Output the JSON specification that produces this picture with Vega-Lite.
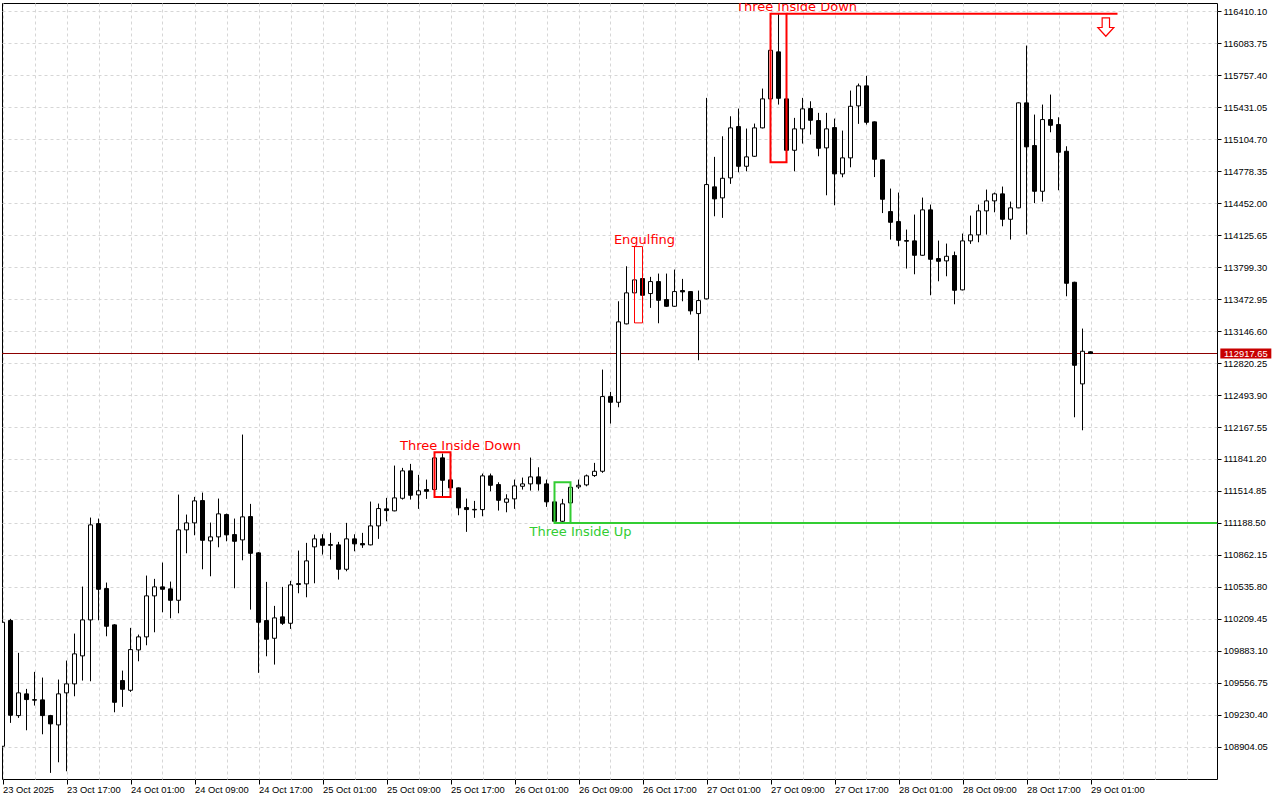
{
  "$schema": "https://vega.github.io/schema/vega-lite/v6.json",
  "width": 1215,
  "height": 776,
  "autosize": {"type": "none"},
  "padding": {"left": 2, "top": 3, "right": 63, "bottom": 21},
  "background": "white",
  "config": {
    "view": {"stroke": "black", "strokeWidth": 1},
    "scale": {"continuousPadding": 0},
    "axis": {"labelOverlap": false, "labelBound": false, "labelFlush": false, "domain": false, "title": null,
      "grid": true, "gridColor": "#d6d6d6", "gridDash": [3, 3], "gridWidth": 1,
      "tickColor": "black", "tickWidth": 1, "labelFont": "Liberation Sans", "labelFontSize": 9.4, "labelColor": "black"},
    "axisY": {"tickSize": 4, "labelPadding": 2},
    "axisX": {"tickSize": 5, "labelPadding": 1, "labelAlign": "left", "labelBaseline": "top"}
  },
  "datasets": {
    "candles": [
      {"t":"2025-10-23T09:00:00Z","open":108909.4,"high":110202.4,"low":108896.2,"close":110174.8},
      {"t":"2025-10-23T10:00:00Z","open":110192.2,"high":110209.5,"low":109148.2,"close":109225.8},
      {"t":"2025-10-23T11:00:00Z","open":109222.7,"high":109862.6,"low":109199.3,"close":109454.4},
      {"t":"2025-10-23T12:00:00Z","open":109444.2,"high":109495.2,"low":109072.7,"close":109386.0},
      {"t":"2025-10-23T13:00:00Z","open":109385.0,"high":109668.7,"low":109324.8,"close":109380.0},
      {"t":"2025-10-23T14:00:00Z","open":109382.9,"high":109610.5,"low":109031.9,"close":109222.7},
      {"t":"2025-10-23T15:00:00Z","open":109222.7,"high":109230.0,"low":108638.0,"close":109138.0},
      {"t":"2025-10-23T16:00:00Z","open":109127.8,"high":109590.1,"low":108746.1,"close":109444.2},
      {"t":"2025-10-23T17:00:00Z","open":109454.4,"high":109784.0,"low":108654.3,"close":109546.2},
      {"t":"2025-10-23T18:00:00Z","open":109546.2,"high":110059.5,"low":109419.7,"close":109852.4},
      {"t":"2025-10-23T19:00:00Z","open":109832.0,"high":110539.2,"low":109579.9,"close":110199.3},
      {"t":"2025-10-23T20:00:00Z","open":110199.3,"high":111243.3,"low":109572.8,"close":111168.8},
      {"t":"2025-10-23T21:00:00Z","open":111182.1,"high":111233.1,"low":110195.3,"close":110511.6},
      {"t":"2025-10-23T22:00:00Z","open":110518.8,"high":110580.0,"low":110032.0,"close":110134.0},
      {"t":"2025-10-23T23:00:00Z","open":110148.3,"high":110155.0,"low":109256.4,"close":109358.4},
      {"t":"2025-10-24T00:00:00Z","open":109579.9,"high":109681.9,"low":109311.6,"close":109491.1},
      {"t":"2025-10-24T01:00:00Z","open":109480.9,"high":110117.7,"low":109464.6,"close":109896.2},
      {"t":"2025-10-24T02:00:00Z","open":109893.2,"high":110049.3,"low":109776.9,"close":110025.9},
      {"t":"2025-10-24T03:00:00Z","open":110025.9,"high":110651.4,"low":109940.1,"close":110444.3},
      {"t":"2025-10-24T04:00:00Z","open":110444.3,"high":110617.8,"low":110072.8,"close":110536.1},
      {"t":"2025-10-24T05:00:00Z","open":110536.1,"high":110784.1,"low":110276.9,"close":110511.6},
      {"t":"2025-10-24T06:00:00Z","open":110515.7,"high":110590.2,"low":110215.7,"close":110399.4},
      {"t":"2025-10-24T07:00:00Z","open":110399.4,"high":111478.0,"low":110266.7,"close":111117.8},
      {"t":"2025-10-24T08:00:00Z","open":111117.8,"high":111273.9,"low":110879.0,"close":111189.2},
      {"t":"2025-10-24T09:00:00Z","open":111189.2,"high":111454.5,"low":111062.7,"close":111413.7},
      {"t":"2025-10-24T10:00:00Z","open":111416.8,"high":111498.4,"low":110715.7,"close":111011.6},
      {"t":"2025-10-24T11:00:00Z","open":111005.6,"high":111192.3,"low":110644.3,"close":111046.4},
      {"t":"2025-10-24T12:00:00Z","open":111046.4,"high":111437.2,"low":110940.2,"close":111281.1},
      {"t":"2025-10-24T13:00:00Z","open":111273.9,"high":111284.1,"low":111001.4,"close":111066.8},
      {"t":"2025-10-24T14:00:00Z","open":111069.8,"high":111233.1,"low":110521.8,"close":111001.4},
      {"t":"2025-10-24T15:00:00Z","open":111015.7,"high":112090.3,"low":110807.6,"close":111250.5},
      {"t":"2025-10-24T16:00:00Z","open":111253.5,"high":111383.1,"low":110304.4,"close":110879.0},
      {"t":"2025-10-24T17:00:00Z","open":110883.1,"high":110890.0,"low":109658.5,"close":110174.8},
      {"t":"2025-10-24T18:00:00Z","open":110192.2,"high":110587.1,"low":109827.9,"close":110001.4},
      {"t":"2025-10-24T19:00:00Z","open":110011.6,"high":110342.2,"low":109743.2,"close":110219.8},
      {"t":"2025-10-24T20:00:00Z","open":110230.0,"high":110536.1,"low":110148.3,"close":110164.6},
      {"t":"2025-10-24T21:00:00Z","open":110164.6,"high":110597.4,"low":110107.5,"close":110556.5},
      {"t":"2025-10-24T22:00:00Z","open":110560.0,"high":110906.6,"low":110470.8,"close":110570.0},
      {"t":"2025-10-24T23:00:00Z","open":110566.8,"high":110985.1,"low":110430.0,"close":110801.5},
      {"t":"2025-10-25T00:00:00Z","open":110944.3,"high":111069.8,"low":110572.8,"close":111026.0},
      {"t":"2025-10-25T01:00:00Z","open":111026.0,"high":111072.9,"low":110865.7,"close":110960.6},
      {"t":"2025-10-25T02:00:00Z","open":110960.0,"high":111087.2,"low":110814.7,"close":110968.0},
      {"t":"2025-10-25T03:00:00Z","open":110964.7,"high":110995.3,"low":110610.6,"close":110715.7},
      {"t":"2025-10-25T04:00:00Z","open":110715.7,"high":111189.2,"low":110695.3,"close":111026.0},
      {"t":"2025-10-25T05:00:00Z","open":111026.0,"high":111072.9,"low":110899.4,"close":110974.9},
      {"t":"2025-10-25T06:00:00Z","open":110978.0,"high":111087.2,"low":110934.1,"close":110964.7},
      {"t":"2025-10-25T07:00:00Z","open":110964.7,"high":111406.6,"low":110960.0,"close":111158.6},
      {"t":"2025-10-25T08:00:00Z","open":111158.6,"high":111386.2,"low":111026.0,"close":111335.2},
      {"t":"2025-10-25T09:00:00Z","open":111332.1,"high":111444.3,"low":111205.6,"close":111314.7},
      {"t":"2025-10-25T10:00:00Z","open":111311.7,"high":111774.0,"low":111307.6,"close":111444.3},
      {"t":"2025-10-25T11:00:00Z","open":111440.3,"high":111750.5,"low":111427.0,"close":111719.9},
      {"t":"2025-10-25T12:00:00Z","open":111719.9,"high":111791.3,"low":111427.0,"close":111470.9},
      {"t":"2025-10-25T13:00:00Z","open":111475.0,"high":111679.1,"low":111332.1,"close":111515.8},
      {"t":"2025-10-25T14:00:00Z","open":111529.0,"high":111631.1,"low":111434.1,"close":111511.6},
      {"t":"2025-10-25T15:00:00Z","open":111529.0,"high":111860.0,"low":111460.7,"close":111852.6},
      {"t":"2025-10-25T16:00:00Z","open":111852.6,"high":111896.4,"low":111460.7,"close":111624.0},
      {"t":"2025-10-25T17:00:00Z","open":111628.1,"high":111726.0,"low":111460.7,"close":111546.4},
      {"t":"2025-10-25T18:00:00Z","open":111546.4,"high":111550.0,"low":111266.8,"close":111342.3},
      {"t":"2025-10-25T19:00:00Z","open":111345.4,"high":111437.2,"low":111097.4,"close":111324.9},
      {"t":"2025-10-25T20:00:00Z","open":111322.0,"high":111413.7,"low":111240.3,"close":111327.0},
      {"t":"2025-10-25T21:00:00Z","open":111324.9,"high":111692.3,"low":111256.6,"close":111668.9},
      {"t":"2025-10-25T22:00:00Z","open":111668.9,"high":111692.3,"low":111511.6,"close":111572.9},
      {"t":"2025-10-25T23:00:00Z","open":111580.1,"high":111603.6,"low":111314.7,"close":111419.9},
      {"t":"2025-10-26T00:00:00Z","open":111399.4,"high":111481.1,"low":111297.4,"close":111434.1},
      {"t":"2025-10-26T01:00:00Z","open":111434.1,"high":111631.1,"low":111332.1,"close":111566.8},
      {"t":"2025-10-26T02:00:00Z","open":111562.7,"high":111651.5,"low":111529.0,"close":111587.2},
      {"t":"2025-10-26T03:00:00Z","open":111587.2,"high":111855.6,"low":111518.8,"close":111658.7},
      {"t":"2025-10-26T04:00:00Z","open":111658.7,"high":111756.6,"low":111518.8,"close":111587.2},
      {"t":"2025-10-26T05:00:00Z","open":111587.2,"high":111631.1,"low":111352.5,"close":111403.6},
      {"t":"2025-10-26T06:00:00Z","open":111403.6,"high":111450.4,"low":111188.5,"close":111205.6},
      {"t":"2025-10-26T07:00:00Z","open":111205.6,"high":111434.1,"low":111195.0,"close":111383.1},
      {"t":"2025-10-26T08:00:00Z","open":111393.3,"high":111600.0,"low":111284.1,"close":111552.5},
      {"t":"2025-10-26T09:00:00Z","open":111556.6,"high":111631.1,"low":111536.1,"close":111572.9},
      {"t":"2025-10-26T10:00:00Z","open":111577.0,"high":111682.1,"low":111562.7,"close":111668.9},
      {"t":"2025-10-26T11:00:00Z","open":111671.9,"high":111801.5,"low":111658.7,"close":111715.8},
      {"t":"2025-10-26T12:00:00Z","open":111715.8,"high":112753.6,"low":111700.0,"close":112478.1},
      {"t":"2025-10-26T13:00:00Z","open":112478.1,"high":112526.1,"low":112202.6,"close":112419.9},
      {"t":"2025-10-26T14:00:00Z","open":112419.9,"high":113450.7,"low":112368.9,"close":113240.4},
      {"t":"2025-10-26T15:00:00Z","open":113220.0,"high":113807.8,"low":113215.0,"close":113536.4},
      {"t":"2025-10-26T16:00:00Z","open":113536.4,"high":114008.9,"low":113230.2,"close":113669.0},
      {"t":"2025-10-26T17:00:00Z","open":113682.3,"high":113852.7,"low":113460.9,"close":113511.9},
      {"t":"2025-10-26T18:00:00Z","open":113529.2,"high":113699.7,"low":113383.3,"close":113651.7},
      {"t":"2025-10-26T19:00:00Z","open":113651.7,"high":113733.3,"low":113226.1,"close":113460.9},
      {"t":"2025-10-26T20:00:00Z","open":113468.0,"high":113733.3,"low":113393.5,"close":113399.6},
      {"t":"2025-10-26T21:00:00Z","open":113399.6,"high":113774.1,"low":113395.0,"close":113549.6},
      {"t":"2025-10-26T22:00:00Z","open":113559.8,"high":113679.2,"low":113450.7,"close":113546.5},
      {"t":"2025-10-26T23:00:00Z","open":113549.6,"high":113555.0,"low":113314.9,"close":113352.7},
      {"t":"2025-10-27T00:00:00Z","open":113325.1,"high":113559.8,"low":112848.6,"close":113457.8},
      {"t":"2025-10-27T01:00:00Z","open":113475.1,"high":115526.3,"low":113470.0,"close":114641.6},
      {"t":"2025-10-27T02:00:00Z","open":114618.1,"high":114924.3,"low":114318.1,"close":114495.6},
      {"t":"2025-10-27T03:00:00Z","open":114505.8,"high":115134.5,"low":114301.7,"close":114705.9},
      {"t":"2025-10-27T04:00:00Z","open":114709.9,"high":115338.6,"low":114648.7,"close":115220.2},
      {"t":"2025-10-27T05:00:00Z","open":115233.5,"high":115417.2,"low":114767.1,"close":114828.3},
      {"t":"2025-10-27T06:00:00Z","open":114828.3,"high":115213.1,"low":114777.3,"close":114924.3},
      {"t":"2025-10-27T07:00:00Z","open":114930.4,"high":115264.1,"low":114924.3,"close":115220.2},
      {"t":"2025-10-27T08:00:00Z","open":115220.2,"high":115621.3,"low":115215.0,"close":115516.1},
      {"t":"2025-10-27T09:00:00Z","open":115516.1,"high":116104.0,"low":115458.0,"close":116012.1},
      {"t":"2025-10-27T10:00:00Z","open":115995.8,"high":116383.6,"low":115458.0,"close":115522.3},
      {"t":"2025-10-27T11:00:00Z","open":115516.1,"high":115570.2,"low":114869.1,"close":114991.6},
      {"t":"2025-10-27T12:00:00Z","open":114991.6,"high":115322.2,"low":114777.3,"close":115210.0},
      {"t":"2025-10-27T13:00:00Z","open":115210.0,"high":115526.3,"low":115060.0,"close":115414.1},
      {"t":"2025-10-27T14:00:00Z","open":115417.2,"high":115491.7,"low":115151.8,"close":115297.8},
      {"t":"2025-10-27T15:00:00Z","open":115294.7,"high":115373.3,"low":114930.4,"close":115012.0},
      {"t":"2025-10-27T16:00:00Z","open":115016.1,"high":115373.3,"low":114532.4,"close":115210.0},
      {"t":"2025-10-27T17:00:00Z","open":115223.3,"high":115315.1,"low":114430.3,"close":114750.8},
      {"t":"2025-10-27T18:00:00Z","open":114750.8,"high":115192.6,"low":114716.1,"close":114914.1},
      {"t":"2025-10-27T19:00:00Z","open":114914.1,"high":115600.8,"low":114818.1,"close":115440.6},
      {"t":"2025-10-27T20:00:00Z","open":115444.7,"high":115672.3,"low":115261.0,"close":115648.8},
      {"t":"2025-10-27T21:00:00Z","open":115648.8,"high":115750.9,"low":115253.9,"close":115277.3},
      {"t":"2025-10-27T22:00:00Z","open":115281.4,"high":115285.0,"low":114718.1,"close":114899.8},
      {"t":"2025-10-27T23:00:00Z","open":114893.6,"high":114897.0,"low":114350.7,"close":114491.6},
      {"t":"2025-10-28T00:00:00Z","open":114366.0,"high":114600.8,"low":114080.3,"close":114256.8},
      {"t":"2025-10-28T01:00:00Z","open":114264.0,"high":114559.9,"low":114011.9,"close":114073.2},
      {"t":"2025-10-28T02:00:00Z","open":114070.0,"high":114182.3,"low":113784.4,"close":114064.0},
      {"t":"2025-10-28T03:00:00Z","open":114067.0,"high":114335.4,"low":113726.2,"close":113920.1},
      {"t":"2025-10-28T04:00:00Z","open":113920.1,"high":114508.9,"low":113915.0,"close":114383.4},
      {"t":"2025-10-28T05:00:00Z","open":114383.4,"high":114437.5,"low":113511.9,"close":113879.3},
      {"t":"2025-10-28T06:00:00Z","open":113886.4,"high":114070.1,"low":113654.8,"close":113858.9},
      {"t":"2025-10-28T07:00:00Z","open":113862.9,"high":114039.5,"low":113705.8,"close":113909.9},
      {"t":"2025-10-28T08:00:00Z","open":113917.0,"high":113957.8,"low":113420.0,"close":113562.9},
      {"t":"2025-10-28T09:00:00Z","open":113567.0,"high":114141.5,"low":113562.0,"close":114067.0},
      {"t":"2025-10-28T10:00:00Z","open":114067.0,"high":114325.2,"low":114036.4,"close":114128.3},
      {"t":"2025-10-28T11:00:00Z","open":114128.3,"high":114437.5,"low":114052.7,"close":114373.2},
      {"t":"2025-10-28T12:00:00Z","open":114373.2,"high":114590.5,"low":114131.3,"close":114475.2},
      {"t":"2025-10-28T13:00:00Z","open":114475.2,"high":114559.9,"low":114358.9,"close":114546.7},
      {"t":"2025-10-28T14:00:00Z","open":114546.7,"high":114621.2,"low":114216.0,"close":114287.5},
      {"t":"2025-10-28T15:00:00Z","open":114287.5,"high":114468.1,"low":114080.3,"close":114403.8},
      {"t":"2025-10-28T16:00:00Z","open":114403.8,"high":115480.0,"low":114400.0,"close":115475.3},
      {"t":"2025-10-28T17:00:00Z","open":115475.3,"high":116060.1,"low":114131.3,"close":115026.3},
      {"t":"2025-10-28T18:00:00Z","open":115039.6,"high":115355.9,"low":114452.8,"close":114573.2},
      {"t":"2025-10-28T19:00:00Z","open":114573.2,"high":115458.0,"low":114468.1,"close":115304.9},
      {"t":"2025-10-28T20:00:00Z","open":115304.9,"high":115560.0,"low":115175.3,"close":115246.7},
      {"t":"2025-10-28T21:00:00Z","open":115253.9,"high":115328.4,"low":114583.4,"close":114971.2},
      {"t":"2025-10-28T22:00:00Z","open":114981.4,"high":115032.4,"low":113501.7,"close":113634.3},
      {"t":"2025-10-28T23:00:00Z","open":113644.5,"high":113650.0,"low":112266.9,"close":112797.6},
      {"t":"2025-10-29T00:00:00Z","open":112607.7,"high":113172.1,"low":112134.2,"close":112940.4},
      {"t":"2025-10-29T01:00:00Z","open":112935.0,"high":112940.0,"low":112912.0,"close":112917.65}
    ],
    "patterns": [
      {"pattern":"Three Inside Down","type":"bearish","start":"2025-10-25T15:00:00Z","end":"2025-10-25T17:00:00Z","high":111909.7,"low":111454.5},
      {"pattern":"Three Inside Up","type":"bullish","start":"2025-10-26T06:00:00Z","end":"2025-10-26T08:00:00Z","high":111603.6,"low":111188.5,"level":111188.5,"levelEnd":"2025-10-30T12:00:00Z"},
      {"pattern":"Engulfing","type":"bearish","start":"2025-10-26T16:00:00Z","end":"2025-10-26T17:00:00Z","high":114008.9,"low":113230.2},
      {"pattern":"Three Inside Down","type":"bearish","start":"2025-10-27T09:00:00Z","end":"2025-10-27T11:00:00Z","high":116383.6,"low":114869.1,"level":116383.6,"levelEnd":"2025-10-29T04:22:30Z"}
    ],
    "signals": [
      {"t":"2025-10-29T02:55:00Z","price":116249,"signal":"sell"}
    ],
    "quote": [
      {"symbol":"BTCUSD","price":112917.65}
    ]
  },
  "layer": [
    {
      "data": {"name": "quote"},
      "mark": {"type": "rule", "color": "#8c0000", "strokeWidth": 1},
      "encoding": {
        "y": {"field": "price", "type": "quantitative", "scale": {"domain": [108575.5, 116494.5], "nice": false, "zero": false, "padding": 0},
          "axis": {"orient": "right", "format": ".2f", "labelOverlap": false, "tickCount": 200,
            "values": [108904.05,109230.40,109556.75,109883.10,110209.45,110535.80,110862.15,111188.50,111514.85,111841.20,112167.55,112493.90,112820.25,113146.60,113472.95,113799.30,114125.65,114452.00,114778.35,115104.70,115431.05,115757.40,116083.75,116410.10]}}
      }
    },
    {
      "data": {"name": "patterns"},
      "transform": [{"filter": "isValid(datum.level)"}],
      "mark": {"type": "rule", "strokeWidth": 2, "clip": true},
      "encoding": {
        "x": {"field": "end", "type": "temporal", "scale": {"type": "utc", "domain": [1761209775000, 1761756525000], "nice": false, "padding": 0}},
        "x2": {"field": "levelEnd"},
        "y": {"field": "level", "type": "quantitative"},
        "color": {"field": "type", "type": "nominal", "scale": {"domain": ["bearish", "bullish"], "range": ["#ff0000", "#32cd32"]}, "legend": null}
      }
    },
    {
      "data": {"name": "candles"},
      "mark": {"type": "rule", "color": "black", "strokeWidth": 1, "clip": true},
      "encoding": {
        "x": {"field": "t", "type": "temporal", "scale": {"type": "utc", "domain": [1761209775000, 1761756525000], "nice": false, "padding": 0},
          "axis": {"orient": "bottom", "labelOverlap": false, "tickCount": 200,
            "values": [1761210000000,1761224400000,1761238800000,1761253200000,1761267600000,1761282000000,1761296400000,1761310800000,1761325200000,1761339600000,1761354000000,1761368400000,1761382800000,1761397200000,1761411600000,1761426000000,1761440400000,1761454800000,1761469200000,1761483600000,1761498000000,1761512400000,1761526800000,1761541200000,1761555600000,1761570000000,1761584400000,1761598800000,1761613200000,1761627600000,1761642000000,1761656400000,1761670800000,1761685200000,1761699600000,1761714000000,1761728400000,1761742800000],
            "labelExpr": "(utchours(datum.value) % 8 == 1 && time(datum.value) <= 1761699600000) ? (time(datum.value) == 1761210000000 ? '23 Oct 2025' : utcFormat(datum.value, '%d %b %H:%M')) : ''",
            "tickOpacity": {"condition": {"test": "utchours(datum.value) % 8 == 1 && time(datum.value) <= 1761699600000", "value": 1}, "value": 0}}},
        "y": {"field": "low", "type": "quantitative"},
        "y2": {"field": "high"}
      }
    },
    {
      "data": {"name": "candles"},
      "mark": {"type": "bar", "size": 4, "stroke": "black", "strokeWidth": 1, "clip": true},
      "encoding": {
        "x": {"field": "t", "type": "temporal"},
        "y": {"field": "open", "type": "quantitative"},
        "y2": {"field": "close"},
        "fill": {"condition": {"test": "datum.close >= datum.open", "value": "white"}, "value": "black"}
      }
    },
    {
      "data": {"name": "patterns"},
      "mark": {"type": "rect", "filled": false, "clip": true},
      "encoding": {
        "x": {"field": "start", "type": "temporal"},
        "x2": {"field": "end"},
        "y": {"field": "high", "type": "quantitative"},
        "y2": {"field": "low"},
        "color": {"field": "type", "type": "nominal", "scale": {"domain": ["bearish", "bullish"], "range": ["#ff0000", "#32cd32"]}, "legend": null},
        "strokeWidth": {"condition": {"test": "datum.pattern == 'Engulfing'", "value": 1}, "value": 2}
      }
    },
    {
      "data": {"name": "patterns"},
      "transform": [{"filter": "datum.type == 'bearish' && datum.pattern != 'Engulfing'"}],
      "mark": {"type": "text", "align": "center", "baseline": "alphabetic", "dx": 10, "dy": -2.5, "font": "DejaVu Sans", "fontSize": 13, "clip": true},
      "encoding": {
        "x": {"field": "end", "type": "temporal"},
        "y": {"field": "high", "type": "quantitative"},
        "text": {"field": "pattern"},
        "color": {"field": "type", "type": "nominal", "scale": {"domain": ["bearish", "bullish"], "range": ["#ff0000", "#32cd32"]}, "legend": null}
      }
    },
    {
      "data": {"name": "patterns"},
      "transform": [{"filter": "datum.pattern == 'Engulfing'"}],
      "mark": {"type": "text", "align": "center", "baseline": "alphabetic", "dx": 2, "dy": -2.5, "font": "DejaVu Sans", "fontSize": 13, "clip": true},
      "encoding": {
        "x": {"field": "end", "type": "temporal"},
        "y": {"field": "high", "type": "quantitative"},
        "text": {"field": "pattern"},
        "color": {"field": "type", "type": "nominal", "scale": {"domain": ["bearish", "bullish"], "range": ["#ff0000", "#32cd32"]}, "legend": null}
      }
    },
    {
      "data": {"name": "patterns"},
      "transform": [{"filter": "datum.type == 'bullish'"}],
      "mark": {"type": "text", "align": "center", "baseline": "top", "dx": 10, "dy": 3, "font": "DejaVu Sans", "fontSize": 13, "clip": true},
      "encoding": {
        "x": {"field": "end", "type": "temporal"},
        "y": {"field": "low", "type": "quantitative"},
        "text": {"field": "pattern"},
        "color": {"field": "type", "type": "nominal", "scale": {"domain": ["bearish", "bullish"], "range": ["#ff0000", "#32cd32"]}, "legend": null}
      }
    },
    {
      "data": {"name": "signals"},
      "mark": {"type": "point", "shape": "M -0.4 -1 L 0.4 -1 L 0.4 0.05 L 0.87 0.05 L 0 1 L -0.87 0.05 L -0.4 0.05 Z", "size": 339, "filled": true, "fill": "white", "stroke": "#ff0000", "strokeWidth": 1.2, "opacity": 1},
      "encoding": {
        "x": {"field": "t", "type": "temporal"},
        "y": {"field": "price", "type": "quantitative"}
      }
    },
    {
      "data": {"name": "quote"},
      "mark": {"type": "point", "shape": "M -1 -0.2 L 1 -0.2 L 1 0.2 L -1 0.2 Z", "size": 2601, "filled": true, "fill": "#c80000", "strokeWidth": 0, "opacity": 1},
      "encoding": {
        "x": {"datum": 1761769500000, "type": "temporal"},
        "y": {"field": "price", "type": "quantitative"}
      }
    },
    {
      "data": {"name": "quote"},
      "mark": {"type": "text", "align": "center", "baseline": "middle", "font": "Liberation Sans", "fontSize": 9.4, "fill": "white"},
      "encoding": {
        "x": {"datum": 1761769500000, "type": "temporal"},
        "y": {"field": "price", "type": "quantitative"},
        "text": {"field": "price", "type": "quantitative", "format": ".2f"}
      }
    }
  ]
}
